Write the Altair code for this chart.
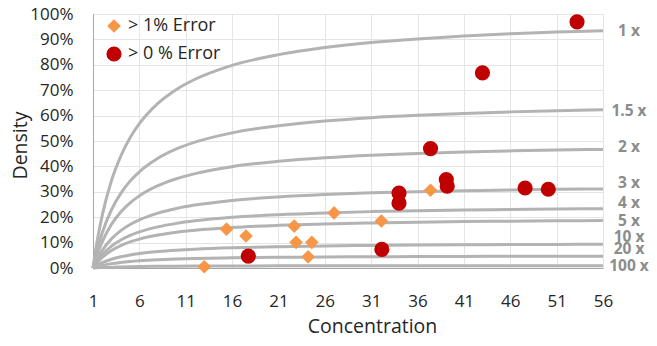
import altair as alt
import pandas as pd

# ---- data ----
conc_grid = [1, 1.25, 1.5, 2, 3, 4, 5, 6, 8, 10, 12, 16, 21, 26, 31, 36, 41, 46, 51, 56]
base_curve = [0.0, 0.062, 0.116, 0.208, 0.345, 0.441, 0.513, 0.568, 0.648, 0.703, 0.743,
              0.798, 0.840, 0.868, 0.888, 0.902, 0.913, 0.922, 0.929, 0.934]
multipliers = [1, 1.5, 2, 3, 4, 5, 10, 20, 100]
curve_labels = ["1 x", "1.5 x", "2 x", "3 x", "4 x", "5 x", "10 x", "20 x", "100 x"]
label_y = [0.933, 0.62, 0.478, 0.334, 0.256, 0.185, 0.123, 0.073, 0.008]

series_names = ["> 1% Error", "> 0 % Error"]
orange_x = [13, 15.4, 17.5, 22.7, 22.9, 24.6, 24.2, 27, 32.1, 37.4]
orange_y = [0.005, 0.153, 0.126, 0.165, 0.101, 0.101, 0.044, 0.217, 0.185, 0.306]
red_x = [17.75, 32.15, 34, 34, 37.4, 39.1, 39.2, 43, 47.6, 50.1, 53.2]
red_y = [0.047, 0.073, 0.295, 0.255, 0.47, 0.348, 0.322, 0.768, 0.315, 0.31, 0.969]

x_ticks = [1, 6, 11, 16, 21, 26, 31, 36, 41, 46, 51, 56]
y_ticks = [0, 0.1, 0.2, 0.3, 0.4, 0.5, 0.6, 0.7, 0.8, 0.9, 1.0]

FONT = "Open Sans"

# ---- tables ----
curve_rows = []
for m, lab in zip(multipliers, curve_labels):
    for cx, cy in zip(conc_grid, base_curve):
        curve_rows.append({"curve": lab, "Concentration": cx, "Density": cy / m})
curves_df = pd.DataFrame(curve_rows)

labels_df = pd.DataFrame({"curve": curve_labels,
                          "Concentration": [conc_grid[-1]] * len(curve_labels),
                          "Density": label_y})

pts_df = pd.concat([
    pd.DataFrame({"Concentration": orange_x, "Density": orange_y, "series": series_names[0]}),
    pd.DataFrame({"Concentration": red_x, "Density": red_y, "series": series_names[1]}),
])

x_scale = alt.Scale(domain=[1, 56], nice=False, zero=False)
y_scale = alt.Scale(domain=[0, 1], nice=False)

x_axis = alt.Axis(values=x_ticks, grid=True, gridColor="#E4E4E4", tickSize=0,
                  labelOverlap=False, labelFlush=False, labelPadding=25, labelFontSize=17,
                  labelColor="#262626", labelFont=FONT,
                  domainColor="#A6A6A6", title="Concentration", titleFont=FONT,
                  titleFontSize=19.5, titleFontWeight="normal", titleColor="#262626",
                  titleX=279, titleY=58, titleBaseline="middle", titleAlign="center")
y_axis = alt.Axis(values=y_ticks, format=".0%", grid=True, gridColor="#E4E4E4", tickSize=0,
                  tickCount=11, labelOverlap=False, labelFlush=False, labelPadding=20,
                  labelFontSize=17, labelColor="#262626", labelFont=FONT,
                  domainColor="#A6A6A6", title="Density", titleFont=FONT,
                  titleFontSize=19.5, titleFontWeight="normal", titleColor="#262626",
                  titleX=-73, titleY=131, titleBaseline="middle", titleAlign="center",
                  titleAngle=-90)

X = alt.X("Concentration:Q", scale=x_scale, axis=x_axis)
Y = alt.Y("Density:Q", scale=y_scale, axis=y_axis)

curves = alt.Chart(curves_df).mark_line(color="#B3B3B3", strokeWidth=3, interpolate="monotone").encode(
    x=X, y=Y, detail="curve:N",
)

curve_text = alt.Chart(labels_df).mark_text(
    align="center", baseline="middle", dx=26, font=FONT, fontSize=15.5,
    fontWeight="bold", color="#8C8C8C"
).encode(x=X, y=Y, text="curve:N")

points = alt.Chart(pts_df).mark_point(filled=True, opacity=1, strokeWidth=0).encode(
    x=X, y=Y,
    color=alt.Color("series:N", sort=series_names,
                    scale=alt.Scale(domain=series_names, range=["#F79646", "#C00000"]),
                    legend=alt.Legend(title=None, orient="none", legendX=12, legendY=3,
                                      labelFont=FONT, labelFontSize=18, labelColor="#262626",
                                      symbolSize=160, rowPadding=10, labelOffset=5,
                                      symbolStrokeWidth=0, padding=0)),
    shape=alt.Shape("series:N", sort=series_names,
                    scale=alt.Scale(domain=series_names, range=["diamond", "circle"])),
    size=alt.Size("series:N", scale=alt.Scale(domain=series_names, range=[185, 230]), legend=None),
)

chart = alt.layer(curves, curve_text, points).properties(
    width=510, height=254,
    autosize=alt.AutoSizeParams(type="none"),
    padding={"left": 85, "top": 6, "right": 46, "bottom": 70},
).configure_view(stroke=None).configure(font=FONT)

chart.save("out.html", embed_options={"renderer": "svg", "actions": False})
